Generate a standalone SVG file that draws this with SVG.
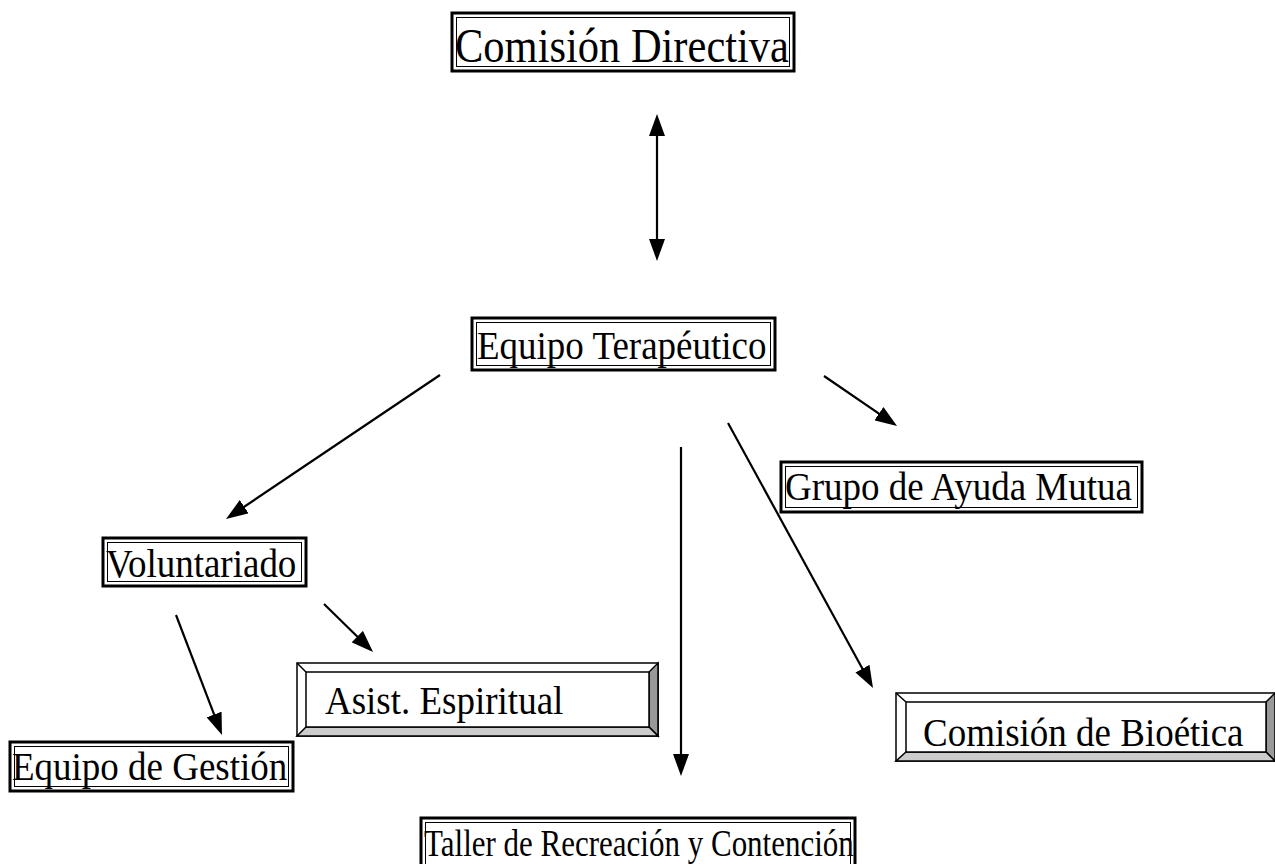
<svg xmlns="http://www.w3.org/2000/svg" width="1275" height="864" viewBox="0 0 1275 864">
<style>
.t{font-family:"Liberation Serif","Times New Roman",serif;font-size:37px;fill:#000}
.big{font-size:42.5px}
.sm{font-size:31px}
.o{fill:#fff;stroke:#000;stroke-width:3}
.i{fill:none;stroke:#000;stroke-width:1}
.c{stroke:#000;stroke-width:2.2;fill:none;marker-end:url(#ah)}
.bv{stroke:#000;stroke-width:1.5}
</style>
<defs>
<marker id="ah" markerUnits="userSpaceOnUse" markerWidth="22" markerHeight="16" refX="12" refY="8" orient="auto-start-reverse" viewBox="0 0 22 16">
<path d="M0,0 L22,8 L0,16 z" fill="#000"/>
</marker>
</defs>
<rect width="1275" height="864" fill="#fff"/>
<g id="connectors">
<line class="c" x1="657" y1="124" x2="657" y2="251" marker-start="url(#ah)"/>
<line class="c" x1="440" y1="375" x2="234.3" y2="513.4"/>
<line class="c" x1="824" y1="376" x2="888.8" y2="420.4"/>
<line class="c" x1="681" y1="447" x2="681" y2="766"/>
<line class="c" x1="728" y1="423" x2="868.2" y2="679.2"/>
<line class="c" x1="324" y1="604" x2="365.9" y2="645"/>
<line class="c" x1="176" y1="615" x2="218.4" y2="725.7"/>
</g>
<g id="comision-directiva">
<rect class="o" x="452" y="13" width="342" height="58"/>
<rect class="i" x="456.5" y="17.5" width="333" height="49"/>
<text class="t big" transform="translate(455 62) scale(1 1.12)">Comisión Directiva</text>
</g>
<g id="equipo-terapeutico">
<rect class="o" x="472" y="318" width="303" height="52"/>
<rect class="i" x="476.5" y="322.5" width="294" height="43"/>
<text class="t" transform="translate(477 359) scale(1 1.1)">Equipo Terapéutico</text>
</g>
<g id="grupo-ayuda-mutua">
<rect class="o" x="781" y="462" width="361" height="50"/>
<rect class="i" x="785.5" y="466.5" width="352" height="41"/>
<text class="t" transform="translate(785 500) scale(1 1.1)">Grupo de Ayuda Mutua</text>
</g>
<g id="voluntariado">
<rect class="o" x="103" y="538" width="203" height="48"/>
<rect class="i" x="107.5" y="542.5" width="194" height="39"/>
<text class="t" transform="translate(106 577) scale(1 1.1)">Voluntariado</text>
</g>
<g id="asist-espiritual">
<rect x="297" y="663" width="361" height="73" fill="#fff" stroke="#000" stroke-width="1.5"/>
<polygon points="658,663 658,736 649,727 649,672" fill="#999" class="bv"/>
<polygon points="297,736 658,736 649,727 306,727" fill="#ccc" class="bv"/>
<rect x="306" y="672" width="343" height="55" fill="#fff" class="bv"/>
<line x1="297" y1="663" x2="306" y2="672" class="bv"/>
<text class="t" transform="translate(325 714) scale(1 1.1)">Asist. Espiritual</text>
</g>
<g id="comision-bioetica">
<rect x="896" y="693" width="390" height="68" fill="#fff" stroke="#000" stroke-width="1.5"/>
<polygon points="1275,693 1275,761 1266,752 1266,702" fill="#999" class="bv"/>
<polygon points="896,761 1275,761 1266,752 906,752" fill="#ccc" class="bv"/>
<rect x="906" y="702" width="360" height="50" fill="#fff" class="bv"/>
<line x1="896" y1="693" x2="906" y2="702" class="bv"/>
<text class="t" transform="translate(923 746) scale(1 1.1)">Comisión de Bioética</text>
</g>
<g id="equipo-gestion">
<rect class="o" x="10" y="742" width="283" height="49"/>
<rect class="i" x="14.5" y="746.5" width="274" height="40"/>
<text class="t" transform="translate(12 780) scale(1 1.1)">Equipo de Gestión</text>
</g>
<g id="taller">
<rect class="o" x="421" y="818" width="434" height="60"/>
<rect class="i" x="425.5" y="822.5" width="425" height="50"/>
<text class="t sm" transform="translate(424 856) scale(1 1.2)">Taller de Recreación y Contención</text>
</g>
</svg>
